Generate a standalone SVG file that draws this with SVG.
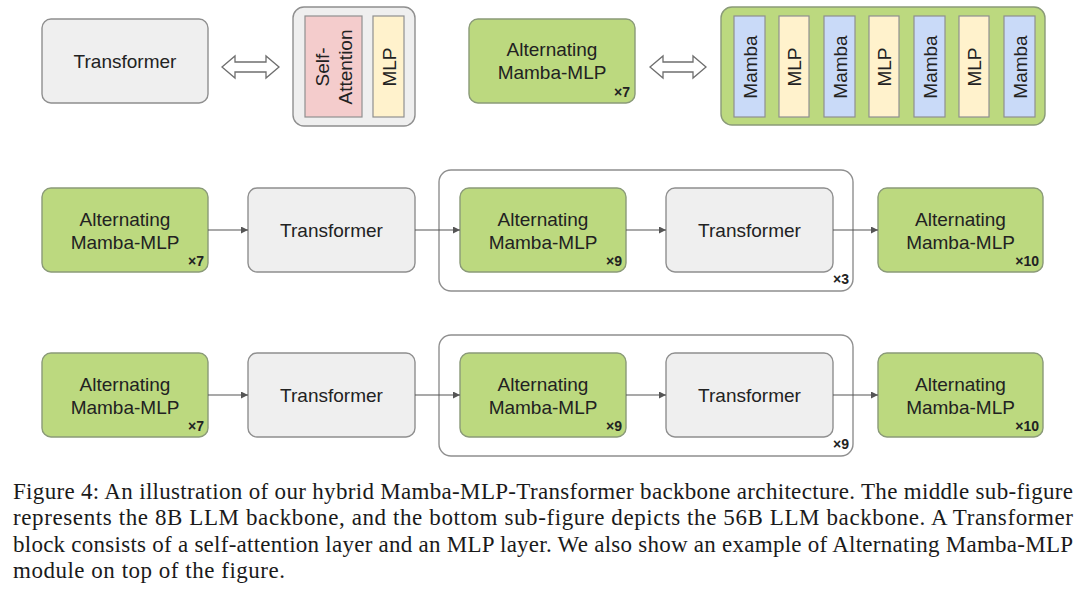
<svg xmlns="http://www.w3.org/2000/svg" width="1080" height="589" viewBox="0 0 1080 589">
<style>
.bg{fill:#ffffff}
.gray{fill:#efefef;stroke:#8f8f8f;stroke-width:1.4}
.green{fill:#bcd97f;stroke:#8a9a78;stroke-width:1.4}
.cont{fill:#ffffff;stroke:#8f8f8f;stroke-width:1.4}
.pink{fill:#f4cccc;stroke:#8f8f8f;stroke-width:1.2}
.yellow{fill:#fff2cc;stroke:#8f8f8f;stroke-width:1.2}
.blue{fill:#c9daf8;stroke:#8f8f8f;stroke-width:1.2}
.dbl{fill:#ffffff;stroke:#6f6f6f;stroke-width:1.3;stroke-linejoin:miter}
.t{font-family:"Liberation Sans",Arial,sans-serif;font-size:19px;fill:#222;text-anchor:middle}
.x{font-family:"Liberation Sans",Arial,sans-serif;font-size:14px;font-weight:bold;fill:#222;text-anchor:end}
.cap{font-family:"Liberation Serif","Times New Roman",serif;font-size:23px;fill:#1a1a1a}
.conn{stroke:#555;stroke-width:1.2;fill:none}
</style>
<defs>
<marker id="ah" markerUnits="userSpaceOnUse" markerWidth="8" markerHeight="7" refX="7" refY="3.5" orient="auto">
<path d="M0,0 L7,3.5 L0,7 z" fill="#555"/>
</marker>
</defs>
<rect class="bg" x="0" y="0" width="1080" height="589"/>

<!-- Top row -->
<g id="top-transformer">
<rect class="gray" x="42" y="19" width="166" height="84" rx="9"/>
<text class="t" x="125" y="68">Transformer</text>
</g>
<g id="top-dblarrow1">
<polygon class="dbl" points="222,67 235,56 235,62 266,62 266,56 279,67 266,78 266,72 235,72 235,78"/>
</g>
<g id="top-transformer-detail">
<rect class="gray" x="293" y="7" width="122" height="119" rx="11"/>
<rect class="pink" x="305" y="16" width="57" height="101"/>
<text class="t" transform="translate(329,67) rotate(-90)">Self-</text>
<text class="t" transform="translate(352,67) rotate(-90)">Attention</text>
<rect class="yellow" x="373" y="16" width="31" height="101"/>
<text class="t" transform="translate(395.5,67) rotate(-90)">MLP</text>
</g>
<g id="top-alternating">
<rect class="green" x="469" y="19" width="166" height="84" rx="9"/>
<text class="t" x="552" y="56">Alternating</text>
<text class="t" x="552" y="79">Mamba-MLP</text>
<text class="x" x="630" y="97">×7</text>
</g>
<g id="top-dblarrow2">
<polygon class="dbl" points="650,67 663,56 663,62 693,62 693,56 706,67 693,78 693,72 663,72 663,78"/>
</g>
<g id="top-alternating-detail">
<rect class="green" x="721" y="7" width="324" height="118" rx="11"/>
<rect class="blue" x="734" y="16" width="31" height="101"/>
<text class="t" transform="translate(756.5,67) rotate(-90)">Mamba</text>
<rect class="yellow" x="779" y="16" width="30" height="101"/>
<text class="t" transform="translate(801,67) rotate(-90)">MLP</text>
<rect class="blue" x="824" y="16" width="31" height="101"/>
<text class="t" transform="translate(846.5,67) rotate(-90)">Mamba</text>
<rect class="yellow" x="869" y="16" width="30" height="101"/>
<text class="t" transform="translate(891,67) rotate(-90)">MLP</text>
<rect class="blue" x="914" y="16" width="31" height="101"/>
<text class="t" transform="translate(936.5,67) rotate(-90)">Mamba</text>
<rect class="yellow" x="959" y="16" width="30" height="101"/>
<text class="t" transform="translate(981,67) rotate(-90)">MLP</text>
<rect class="blue" x="1004" y="16" width="31" height="101"/>
<text class="t" transform="translate(1026.5,67) rotate(-90)">Mamba</text>
</g>

<!-- Middle row (8B) -->
<g id="mid-container">
<rect class="cont" x="439" y="170" width="414" height="121" rx="12"/>
<text class="x" x="849" y="284">×3</text>
</g>
<g id="mid-alt1">
<rect class="green" x="42" y="188" width="166" height="84" rx="9"/>
<text class="t" x="125" y="226">Alternating</text>
<text class="t" x="125" y="249">Mamba-MLP</text>
<text class="x" x="204" y="266">×7</text>
</g>
<g id="mid-trans1">
<rect class="gray" x="248" y="188" width="167" height="84" rx="9"/>
<text class="t" x="331.5" y="237">Transformer</text>
</g>
<g id="mid-alt2">
<rect class="green" x="460" y="188" width="166" height="84" rx="9"/>
<text class="t" x="543" y="226">Alternating</text>
<text class="t" x="543" y="249">Mamba-MLP</text>
<text class="x" x="622" y="266">×9</text>
</g>
<g id="mid-trans2">
<rect class="gray" x="666" y="188" width="167" height="84" rx="9"/>
<text class="t" x="749.5" y="237">Transformer</text>
</g>
<g id="mid-alt3">
<rect class="green" x="878" y="188" width="165" height="84" rx="9"/>
<text class="t" x="960.5" y="226">Alternating</text>
<text class="t" x="960.5" y="249">Mamba-MLP</text>
<text class="x" x="1039" y="266">×10</text>
</g>

<!-- Bottom row (56B) -->
<g id="bot-container">
<rect class="cont" x="439" y="335" width="414" height="121" rx="12"/>
<text class="x" x="849" y="449">×9</text>
</g>
<g id="bot-alt1">
<rect class="green" x="42" y="353" width="166" height="84" rx="9"/>
<text class="t" x="125" y="391">Alternating</text>
<text class="t" x="125" y="414">Mamba-MLP</text>
<text class="x" x="204" y="431">×7</text>
</g>
<g id="bot-trans1">
<rect class="gray" x="248" y="353" width="167" height="84" rx="9"/>
<text class="t" x="331.5" y="402">Transformer</text>
</g>
<g id="bot-alt2">
<rect class="green" x="460" y="353" width="166" height="84" rx="9"/>
<text class="t" x="543" y="391">Alternating</text>
<text class="t" x="543" y="414">Mamba-MLP</text>
<text class="x" x="622" y="431">×9</text>
</g>
<g id="bot-trans2">
<rect class="gray" x="666" y="353" width="167" height="84" rx="9"/>
<text class="t" x="749.5" y="402">Transformer</text>
</g>
<g id="bot-alt3">
<rect class="green" x="878" y="353" width="165" height="84" rx="9"/>
<text class="t" x="960.5" y="391">Alternating</text>
<text class="t" x="960.5" y="414">Mamba-MLP</text>
<text class="x" x="1039" y="431">×10</text>
</g>

<g id="connectors">
<line class="conn" x1="208" y1="230" x2="248" y2="230" marker-end="url(#ah)"/>
<line class="conn" x1="415" y1="230" x2="460" y2="230" marker-end="url(#ah)"/>
<line class="conn" x1="626" y1="230" x2="666" y2="230" marker-end="url(#ah)"/>
<line class="conn" x1="833" y1="230" x2="878" y2="230" marker-end="url(#ah)"/>
<line class="conn" x1="208" y1="395" x2="248" y2="395" marker-end="url(#ah)"/>
<line class="conn" x1="415" y1="395" x2="460" y2="395" marker-end="url(#ah)"/>
<line class="conn" x1="626" y1="395" x2="666" y2="395" marker-end="url(#ah)"/>
<line class="conn" x1="833" y1="395" x2="878" y2="395" marker-end="url(#ah)"/>
</g>

<g id="caption">
<text class="cap" x="13" y="498.5" textLength="1060" lengthAdjust="spacing">Figure 4: An illustration of our hybrid Mamba-MLP-Transformer backbone architecture. The middle sub-figure</text>
<text class="cap" x="13" y="525" textLength="1060" lengthAdjust="spacing">represents the 8B LLM backbone, and the bottom sub-figure depicts the 56B LLM backbone. A Transformer</text>
<text class="cap" x="13" y="551.5" textLength="1060" lengthAdjust="spacing">block consists of a self-attention layer and an MLP layer. We also show an example of Alternating Mamba-MLP</text>
<text class="cap" x="13" y="578" textLength="272" lengthAdjust="spacing">module on top of the figure.</text>
</g>
</svg>
